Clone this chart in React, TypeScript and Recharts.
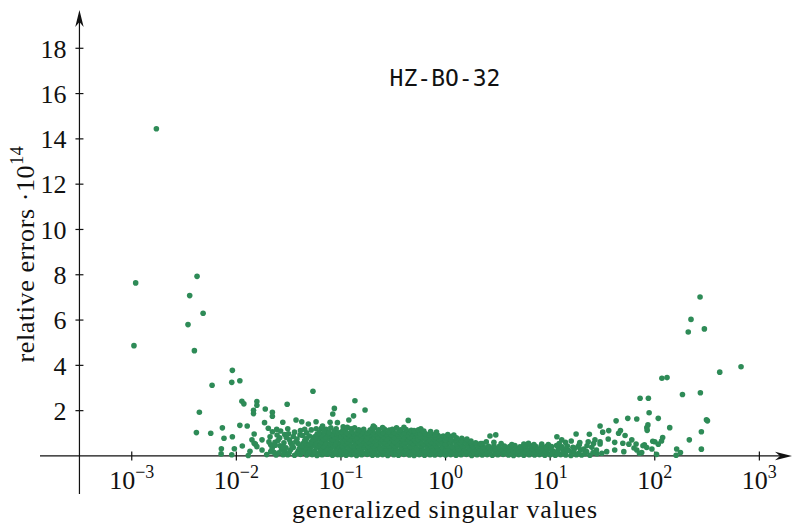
import { ReferenceLine, Scatter, ScatterChart, XAxis, YAxis } from 'recharts'

// axis extents (log x, linear y scaled by 1e14)
const X_MIN = 1.327e-4
const X_MAX = 2051
const Y_MIN = -1.68
const Y_MAX = 19.69
const Y_AXIS_AT = 3.162e-4

const xTicks = [1e-3, 1e-2, 1e-1, 1, 10, 100, 1000]
const xTickExponents = ['−3', '−2', '−1', '0', '1', '2', '3']
const yTicks = [2, 4, 6, 8, 10, 12, 14, 16, 18]

const chartTitle = 'HZ-BO-32'
const xTitle = 'generalized singular values'
const yTitle = 'relative errors ·10'
const yTitleExp = '14'

// scattered points on the small side
const leftOutliers: [number, number][] = [
  [0.00105, 4.87], [0.00109, 7.64], [0.00172, 14.45], [0.00345, 5.8], [0.00358, 7.08],
  [0.00397, 4.65], [0.00415, 1.03], [0.00421, 7.93], [0.00443, 1.93], [0.00481, 6.3],
  [0.00569, 1.0], [0.00586, 3.12], [0.00715, 0.09], [0.00719, 0.32], [0.00735, 1.24],
  [0.00762, 0.78], [0.00904, 3.25], [0.00904, 0.05], [0.00916, 3.78], [0.00916, 0.85],
  [0.00957, 0.32], [0.0108, 3.32], [0.0108, 1.35], [0.0113, 2.41], [0.0114, 0.44],
  [0.0118, 2.3], [0.0127, 1.32], [0.013, 0.02], [0.0135, 0.21], [0.0141, 0.71],
  [0.0146, 2.02], [0.0146, 1.87], [0.0148, 0.97], [0.0148, 0.56], [0.0152, 0.52],
  [0.0157, 2.4], [0.0157, 2.24], [0.0157, 0.41], [0.0176, 0.71], [0.0176, 0.26],
  [0.0186, 1.47], [0.0189, 2.07], [0.0202, 1.22], [0.0213, 0.19], [0.0213, 0.49],
  [0.0221, 1.93], [0.0221, 1.75], [0.0221, 1.07], [0.0234, 0.6], [0.0243, 1.18],
  [0.0261, 0.45], [0.0278, 1.49], [0.029, 0.19], [0.0306, 2.28], [0.031, 1.2],
  [0.0322, 0.71], [0.0345, 0.41], [0.0372, 1.59], [0.0406, 0.93], [0.0422, 1.51],
  [0.0437, 0.56], [0.047, 0.19], [0.0488, 1.41], [0.054, 2.86], [0.056, 0.85],
  [0.0578, 1.51], [0.0667, 1.32], [0.0787, 1.49], [0.0835, 1.85], [0.0865, 2.1],
  [0.0925, 1.47], [0.105, 1.29], [0.119, 1.59], [0.132, 1.77], [0.136, 2.44],
  [0.17, 2.03], [0.204, 1.32], [0.44, 1.57], [2.66, 0.88], [3.02, 0.93],
]

// dense band, 0.02 .. 0.1
const lowBand: [number, number][] = [
  [0.0195, 0.06], [0.022, 0.33], [0.024, 0.04], [0.026, 0.8], [0.027, 0.27], [0.028, 0.05], [0.029, 0.95],
  [0.0205, 0.62], [0.0245, 0.92], [0.0255, 0.14], [0.0285, 0.58], [0.0298, 0.36], [0.0235, 0.47],
  [0.021, 0.85], [0.023, 0.15], [0.025, 0.68], [0.0265, 1.1], [0.028, 0.38], [0.03, 0.82], [0.0315, 0.98],
  [0.033, 0.58], [0.035, 0.86], [0.036, 1.05], [0.038, 0.75], [0.041, 1.12], [0.043, 0.9], [0.045, 1.18],
  [0.047, 1.02], [0.052, 1.15], [0.058, 1.2], [0.065, 1.22], [0.072, 1.18], [0.08, 1.24], [0.09, 1.2],
  [0.031, 0.05], [0.036, 0.03], [0.041, 0.07], [0.047, 0.04], [0.053, 0.06], [0.059, 0.02], [0.066, 0.05], [0.074, 0.08], [0.083, 0.03], [0.093, 0.06],
  [0.032, 0.15], [0.038, 0.12], [0.043, 0.16], [0.049, 0.13], [0.055, 0.15], [0.061, 0.11], [0.068, 0.14], [0.076, 0.16], [0.085, 0.12], [0.095, 0.15],
  [0.033, 0.27], [0.039, 0.22], [0.044, 0.3], [0.05, 0.24], [0.056, 0.2], [0.063, 0.28], [0.07, 0.23], [0.079, 0.26], [0.088, 0.21], [0.098, 0.27],
  [0.035, 0.37], [0.04, 0.33], [0.046, 0.36], [0.051, 0.34], [0.058, 0.38], [0.065, 0.35], [0.073, 0.33], [0.081, 0.37], [0.091, 0.34],
  [0.034, 0.47], [0.042, 0.43], [0.048, 0.49], [0.054, 0.44], [0.061, 0.46], [0.068, 0.42], [0.076, 0.48], [0.085, 0.45], [0.095, 0.43],
  [0.039, 0.55], [0.046, 0.57], [0.05, 0.53], [0.057, 0.56], [0.063, 0.54], [0.071, 0.58], [0.079, 0.55], [0.088, 0.53], [0.097, 0.56],
  [0.037, 0.63], [0.045, 0.68], [0.052, 0.62], [0.058, 0.66], [0.065, 0.64], [0.072, 0.69], [0.081, 0.63], [0.09, 0.67],
  [0.047, 0.77], [0.054, 0.74], [0.061, 0.78], [0.068, 0.75], [0.075, 0.77], [0.083, 0.73], [0.093, 0.76],
  [0.05, 0.88], [0.057, 0.83], [0.064, 0.87], [0.071, 0.85], [0.078, 0.89], [0.087, 0.84], [0.097, 0.86],
  [0.059, 0.96], [0.066, 0.94], [0.074, 0.97], [0.082, 0.95], [0.091, 0.98],
  [0.062, 1.03], [0.069, 1.08], [0.077, 1.04], [0.086, 1.1], [0.094, 1.02],
]

// dense band, 0.1 .. 1
const midBand: [number, number][] = [
  [0.1, 0.05], [0.112, 0.03], [0.126, 0.06], [0.141, 0.02], [0.158, 0.05], [0.178, 0.07], [0.2, 0.03], [0.224, 0.04], [0.25, 0.06], [0.28, 0.02],
  [0.32, 0.05], [0.355, 0.03], [0.4, 0.07], [0.45, 0.04], [0.5, 0.02], [0.56, 0.06], [0.63, 0.03], [0.71, 0.05], [0.79, 0.04], [0.89, 0.06],
  [0.106, 0.15], [0.119, 0.13], [0.133, 0.16], [0.15, 0.14], [0.168, 0.12], [0.188, 0.15], [0.21, 0.14], [0.237, 0.16], [0.266, 0.13], [0.3, 0.15],
  [0.335, 0.12], [0.375, 0.16], [0.42, 0.14], [0.47, 0.13], [0.53, 0.15], [0.595, 0.14], [0.67, 0.16], [0.75, 0.12], [0.84, 0.15], [0.94, 0.13],
  [0.1, 0.25], [0.112, 0.22], [0.126, 0.27], [0.141, 0.24], [0.158, 0.21], [0.178, 0.26], [0.2, 0.23], [0.224, 0.28], [0.25, 0.22], [0.28, 0.25],
  [0.32, 0.27], [0.355, 0.21], [0.4, 0.24], [0.45, 0.26], [0.5, 0.23], [0.56, 0.25], [0.63, 0.22], [0.71, 0.27], [0.79, 0.24], [0.89, 0.21],
  [0.106, 0.35], [0.119, 0.33], [0.133, 0.36], [0.15, 0.34], [0.168, 0.37], [0.188, 0.33], [0.21, 0.35], [0.237, 0.34], [0.266, 0.36], [0.3, 0.33],
  [0.335, 0.35], [0.375, 0.37], [0.42, 0.34], [0.47, 0.36], [0.53, 0.33], [0.595, 0.35], [0.67, 0.34], [0.75, 0.36], [0.84, 0.33], [0.94, 0.35],
  [0.103, 0.44], [0.115, 0.47], [0.13, 0.43], [0.145, 0.46], [0.163, 0.48], [0.183, 0.42], [0.205, 0.45], [0.23, 0.47], [0.258, 0.44], [0.29, 0.43],
  [0.325, 0.46], [0.365, 0.48], [0.41, 0.45], [0.46, 0.42], [0.515, 0.47], [0.58, 0.44], [0.65, 0.46], [0.73, 0.43], [0.82, 0.45], [0.92, 0.47],
  [0.109, 0.55], [0.122, 0.54], [0.137, 0.57], [0.154, 0.53], [0.173, 0.56], [0.194, 0.55], [0.217, 0.53], [0.244, 0.57], [0.273, 0.54], [0.307, 0.56],
  [0.345, 0.53], [0.387, 0.55], [0.435, 0.57], [0.488, 0.54], [0.547, 0.56], [0.614, 0.53], [0.69, 0.55], [0.774, 0.57], [0.868, 0.54], [0.97, 0.55],
  [0.103, 0.66], [0.115, 0.63], [0.13, 0.68], [0.145, 0.64], [0.163, 0.67], [0.183, 0.62], [0.205, 0.65], [0.23, 0.69], [0.258, 0.63], [0.29, 0.66],
  [0.325, 0.64], [0.365, 0.68], [0.41, 0.62], [0.46, 0.65], [0.515, 0.67], [0.58, 0.63], [0.65, 0.66], [0.73, 0.64], [0.82, 0.68], [0.92, 0.65],
  [0.109, 0.76], [0.122, 0.74], [0.137, 0.77], [0.154, 0.75], [0.173, 0.73], [0.194, 0.77], [0.217, 0.75], [0.244, 0.74], [0.273, 0.76], [0.307, 0.78],
  [0.345, 0.74], [0.387, 0.76], [0.435, 0.75], [0.488, 0.77], [0.547, 0.73], [0.614, 0.76], [0.69, 0.74], [0.774, 0.77], [0.868, 0.75], [0.97, 0.73],
  [0.101, 0.86], [0.113, 0.84], [0.127, 0.88], [0.143, 0.83], [0.16, 0.87], [0.18, 0.85], [0.202, 0.89], [0.226, 0.84], [0.254, 0.86], [0.285, 0.88],
  [0.32, 0.83], [0.358, 0.87], [0.402, 0.85], [0.452, 0.84], [0.507, 0.88], [0.569, 0.86], [0.638, 0.83], [0.716, 0.87], [0.803, 0.85], [0.9, 0.82],
  [0.107, 0.96], [0.12, 0.94], [0.135, 0.97], [0.152, 0.95], [0.17, 0.98], [0.19, 0.94], [0.213, 0.96], [0.24, 0.95], [0.27, 0.97], [0.303, 0.94],
  [0.34, 0.96], [0.38, 0.98], [0.427, 0.95], [0.48, 0.97], [0.538, 0.94], [0.6, 0.96], [0.68, 0.93], [0.76, 0.92], [0.85, 0.9], [0.95, 0.88],
  [0.101, 1.06], [0.113, 1.03], [0.127, 1.08], [0.143, 1.04], [0.16, 1.07], [0.18, 1.02], [0.202, 1.05], [0.226, 1.09], [0.254, 1.03], [0.285, 1.06],
  [0.32, 1.04], [0.358, 1.08], [0.402, 1.02], [0.452, 1.05], [0.507, 1.03], [0.569, 1.0], [0.638, 0.99], [0.716, 1.01], [0.803, 0.97],
  [0.105, 1.16], [0.125, 1.2], [0.148, 1.15], [0.165, 1.18], [0.19, 1.14], [0.2, 1.22], [0.23, 1.16], [0.26, 1.19], [0.29, 1.14], [0.31, 1.18],
  [0.37, 1.15], [0.42, 1.17], [0.47, 1.13], [0.5, 1.12], [0.55, 1.15], [0.62, 1.1], [0.72, 1.08], [0.82, 1.06],
  [0.115, 1.26], [0.135, 1.24], [0.21, 1.27], [0.25, 1.25], [0.34, 1.24], [0.4, 1.26], [0.58, 1.2],
]

// dense band, 1 .. 30
const highBand: [number, number][] = [
  [1.0, 0.04], [1.12, 0.06], [1.26, 0.03], [1.41, 0.05], [1.58, 0.07], [1.78, 0.02], [2.0, 0.05], [2.24, 0.04], [2.5, 0.06], [2.8, 0.03],
  [3.16, 0.05], [3.55, 0.07], [4.0, 0.04], [4.47, 0.02], [5.0, 0.06], [5.6, 0.03], [6.3, 0.05], [7.1, 0.04], [7.9, 0.06], [8.9, 0.03],
  [1.06, 0.14], [1.19, 0.13], [1.33, 0.15], [1.5, 0.12], [1.68, 0.14], [1.88, 0.16], [2.1, 0.13], [2.37, 0.15], [2.66, 0.12], [3.0, 0.14],
  [3.35, 0.16], [3.75, 0.13], [4.2, 0.14], [4.7, 0.15], [5.3, 0.12], [5.95, 0.14], [6.7, 0.16], [7.5, 0.13], [8.4, 0.15], [9.4, 0.13],
  [1.0, 0.24], [1.12, 0.21], [1.26, 0.26], [1.41, 0.23], [1.58, 0.22], [1.78, 0.25], [2.0, 0.2], [2.24, 0.24], [2.5, 0.22], [2.8, 0.26],
  [3.16, 0.21], [3.55, 0.23], [4.0, 0.25], [4.47, 0.22], [5.0, 0.24], [5.6, 0.2], [6.3, 0.23], [7.1, 0.26], [7.9, 0.21], [8.9, 0.24],
  [1.06, 0.33], [1.19, 0.35], [1.33, 0.32], [1.5, 0.34], [1.68, 0.33], [1.88, 0.31], [2.1, 0.34], [2.37, 0.32], [2.66, 0.35], [3.0, 0.33],
  [3.35, 0.31], [3.75, 0.34], [4.2, 0.32], [4.7, 0.35], [5.3, 0.33], [5.95, 0.31], [6.7, 0.34], [7.5, 0.32], [8.4, 0.34], [9.4, 0.31],
  [1.03, 0.44], [1.15, 0.41], [1.3, 0.46], [1.45, 0.43], [1.63, 0.45], [1.83, 0.42], [2.05, 0.44], [2.3, 0.4], [2.58, 0.43], [2.9, 0.45],
  [3.25, 0.41], [3.65, 0.44], [4.1, 0.42], [4.6, 0.46], [5.15, 0.4], [5.8, 0.43], [6.5, 0.45], [7.3, 0.41], [8.2, 0.44], [9.2, 0.42],
  [1.0, 0.54], [1.12, 0.56], [1.26, 0.53], [1.41, 0.55], [1.58, 0.57], [1.78, 0.53], [2.0, 0.52], [2.24, 0.55],
  [1.09, 0.63], [1.22, 0.66], [1.37, 0.61], [1.54, 0.64], [1.73, 0.6], [1.94, 0.58], [2.17, 0.55],
  [1.0, 0.72], [1.12, 0.74], [1.26, 0.71], [1.41, 0.69], [1.58, 0.7], [1.75, 0.66],
  [1.02, 0.82], [1.13, 0.86], [1.27, 0.8], [1.43, 0.78], [1.6, 0.75], [1.05, 0.95], [1.2, 0.92],
  [2.9, 0.6], [3.4, 0.55], [4.3, 0.5], [5.6, 0.52], [7.0, 0.5], [8.3, 0.53], [9.6, 0.5], [2.45, 0.62], [6.2, 0.56],
  [10, 0.05], [11.2, 0.03], [12.6, 0.06], [14.1, 0.04], [15.8, 0.02], [17.8, 0.05], [20, 0.04], [24, 0.03],
  [10.4, 0.14], [11.6, 0.16], [13.7, 0.12], [16.2, 0.15], [18.6, 0.11],
  [10.6, 0.23], [11.9, 0.26], [13.3, 0.2], [15, 0.24], [16.8, 0.22], [19.5, 0.27],
  [10.1, 0.33], [12.2, 0.35], [14.3, 0.31], [17.2, 0.34],
  [10.3, 0.42], [11.5, 0.46], [13, 0.4], [14.6, 0.44], [16.5, 0.38], [18.5, 0.41], [12.2, 0.55], [14, 0.6],
  [21, 0.3], [22.5, 0.45], [25, 0.38], [28, 0.1], [19, 0.5], [21.5, 0.1], [26, 0.55],
]

// scattered points on the large side
const rightOutliers: [number, number][] = [
  [11.6, 0.85], [17.7, 0.97], [23.7, 0.96], [30.0, 1.32], [31.8, 1.05], [36.3, 1.12], [42.7, 1.55], [55.2, 1.66],
  [67.3, 1.63], [88.3, 1.91], [86.0, 1.37], [84.0, 1.25], [45.1, 1.0], [47.0, 1.12], [52.0, 0.9], [35.9, 0.75],
  [30.0, 0.63], [26.8, 0.71], [23.1, 0.63], [19.2, 0.59], [15.9, 0.66], [12.9, 0.71], [41.4, 0.6], [49.5, 0.56],
  [60.3, 0.71], [66.3, 0.53], [79.6, 0.49], [100, 0.63], [93.9, 0.31], [50.6, 0.19], [41.4, 0.26], [67.3, 0.26],
  [71.4, 0.12], [34.7, 0.19], [27.7, 0.26], [31.2, 0.12], [22.3, 0.19], [63.3, 0.35], [56.6, 0.52], [30.0, 0.53],
  [25.7, 0.15], [271, 7.02], [222, 6.03], [209, 5.47], [298, 5.61], [418, 3.7], [668, 3.94], [117, 3.43],
  [131, 3.46], [72.4, 2.55], [86.9, 2.55], [184, 2.71], [273, 2.79], [108, 1.66], [139, 1.25], [312, 1.6],
  [319, 1.55], [279, 1.07], [214, 0.71], [95.7, 0.65], [108, 0.52], [119, 0.81], [116, 0.66], [77.1, 0.45],
  [83.8, 0.37], [162, 0.31], [176, 0.15], [160, 0.03], [279, 0.3], [104, 0.07], [75, 0.15], [84.6, 1.13],
]

const DOT = '#2e8b57'
const INK = '#111'
const SERIF = '"Liberation Serif", serif'
const MONO = '"DejaVu Sans Mono", monospace'

const points = [...leftOutliers, ...lowBand, ...midBand, ...highBand, ...rightOutliers].map(([x, y]) => ({ x, y }))

function ArrowAxis(props: any) {
  const { x1, y1, x2, y2 } = props
  const dx = x2 - x1
  const dy = y2 - y1
  const len = Math.hypot(dx, dy)
  const ux = dx / len
  const uy = dy / len
  const L = 17
  const W = 4.2
  const N = 12
  const pts = [
    [x2, y2],
    [x2 - ux * L - uy * W, y2 - uy * L + ux * W],
    [x2 - ux * N, y2 - uy * N],
    [x2 - ux * L + uy * W, y2 - uy * L - ux * W],
  ]
  return (
    <g>
      <line x1={x1} y1={y1} x2={x2 - ux * N} y2={y2 - uy * N} stroke={INK} strokeWidth={1.2} />
      <polygon points={pts.map((p) => p.join(',')).join(' ')} fill={INK} />
    </g>
  )
}

const xTickLabel = (exp: string) => (props: any) => {
  const vb = props.viewBox
  return (
    <text x={vb.x + vb.width / 2} y={vb.y + vb.height + 29} textAnchor="middle" fontFamily={SERIF} fill={INK}>
      <tspan fontSize={26}>10</tspan>
      <tspan fontSize={18} dy={-11}>{exp}</tspan>
    </text>
  )
}

const yTickLabel = (v: number) => (props: any) => {
  const vb = props.viewBox
  return (
    <text x={vb.x - 9} y={vb.y + 9.3} textAnchor="end" fontFamily={SERIF} fontSize={26} fill={INK}>
      {v}
    </text>
  )
}

export default function App() {
  return (
    <div style={{ position: 'absolute', left: 0, top: 0, background: '#fff' }}>
      <ScatterChart width={792} height={526} margin={{ top: 10, right: 0, bottom: 32, left: 40 }}>
        <XAxis type="number" dataKey="x" scale="log" domain={[X_MIN, X_MAX]} allowDataOverflow hide />
        <YAxis type="number" dataKey="y" domain={[Y_MIN, Y_MAX]} allowDataOverflow hide />
        <Scatter
          data={points}
          isAnimationActive={false}
          shape={(p: any) => <circle cx={p.cx} cy={p.cy} r={2.8} fill={DOT} />}
        />
        <ReferenceLine segment={[{ x: X_MIN, y: 0 }, { x: X_MAX, y: 0 }]} ifOverflow="visible" shape={ArrowAxis} />
        <ReferenceLine segment={[{ x: Y_AXIS_AT, y: Y_MIN }, { x: Y_AXIS_AT, y: Y_MAX }]} ifOverflow="visible" shape={ArrowAxis} />
        {xTicks.map((t, i) => (
          <ReferenceLine
            key={`xt-${t}`}
            segment={[{ x: t, y: -0.2 }, { x: t, y: 0.2 }]}
            ifOverflow="visible"
            stroke={INK}
            strokeWidth={1.2}
            label={xTickLabel(xTickExponents[i])}
          />
        ))}
        {yTicks.map((t) => (
          <ReferenceLine
            key={`yt-${t}`}
            segment={[{ x: Y_AXIS_AT / 1.092, y: t }, { x: Y_AXIS_AT * 1.092, y: t }]}
            ifOverflow="visible"
            stroke={INK}
            strokeWidth={1.2}
            label={yTickLabel(t)}
          />
        ))}
        <text x={445} y={86} textAnchor="middle" fontFamily={MONO} fontSize={23} fill={INK}>
          {chartTitle}
        </text>
        <text x={445} y={518} textAnchor="middle" fontFamily={SERIF} fontSize={26} letterSpacing={0.85} fill={INK}>
          {xTitle}
        </text>
        <text transform="translate(34,254) rotate(-90)" textAnchor="middle" fontFamily={SERIF} fontSize={26} letterSpacing={0.6} fill={INK}>
          {yTitle}
          <tspan fontSize={18} dy={-11}>{yTitleExp}</tspan>
        </text>
      </ScatterChart>
    </div>
  )
}
